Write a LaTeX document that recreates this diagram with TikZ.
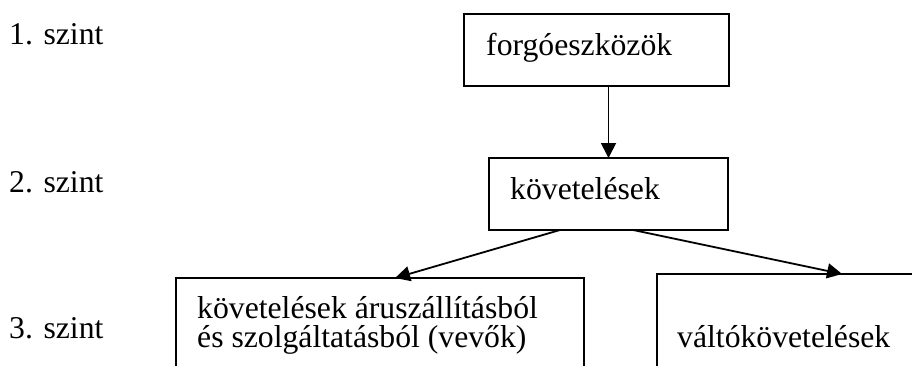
\documentclass[tikz,border=0pt]{standalone}
\usepackage{fontspec}
\setmainfont{Liberation Serif}
\usetikzlibrary{arrows.meta,calc}
\begin{document}
\begin{tikzpicture}[x=1pt,y=-1pt,
  box/.style={draw,line width=1.8pt,rectangle,anchor=north west,inner sep=0pt,outer sep=0pt},
  lbl/.style={anchor=base west,inner sep=0pt,font=\fontsize{31.7}{29}\selectfont},
  arr/.style={line width=1.8pt,-{Triangle[length=15pt,width=15pt]}}]
\useasboundingbox (0,0) rectangle (912,365);
\clip (0,0) rectangle (912,365);
% level labels
\node[lbl] (l1) at (9,44) {1. szint};
\node[lbl] (l2) at (9,192) {2. szint};
\node[lbl] (l3) at (9,338) {3. szint};
% boxes
\node[box,minimum width=265pt,minimum height=72pt] (b1) at (464,14) {};
\node[box,minimum width=239pt,minimum height=72pt] (b2) at (489,158) {};
\node[box,minimum width=408pt,minimum height=120pt] (b3) at (176,278) {};
\node[box,minimum width=300pt,minimum height=120pt] (b4) at (657,274) {};
% texts
\node[lbl] (t1) at (486,55) {forgóeszközök};
\node[lbl] (t2) at (510,199) {követelések};
\node[lbl] (t3a) at (197,318) {követelések áruszállításból};
\node[lbl] (t3b) at (197,347) {és szolgáltatásból (vevők)};
\node[lbl] (t4) at (677,347) {váltókövetelések};
% connectors
\coordinate (s2l) at ($(b2.south west)!0.297!(b2.south east)$);
\coordinate (s2r) at ($(b2.south west)!0.603!(b2.south east)$);
\coordinate (e3) at ($(b3.north west)!0.537!(b3.north east)$);
\coordinate (e4) at ($(b4.north west)!0.617!(b4.north east)$);
\draw[arr] (b2.north |- b1.south) -- (b2.north);
\draw[arr] (s2l) -- (e3);
\draw[arr] (s2r) -- (e4);
\end{tikzpicture}
\end{document}
